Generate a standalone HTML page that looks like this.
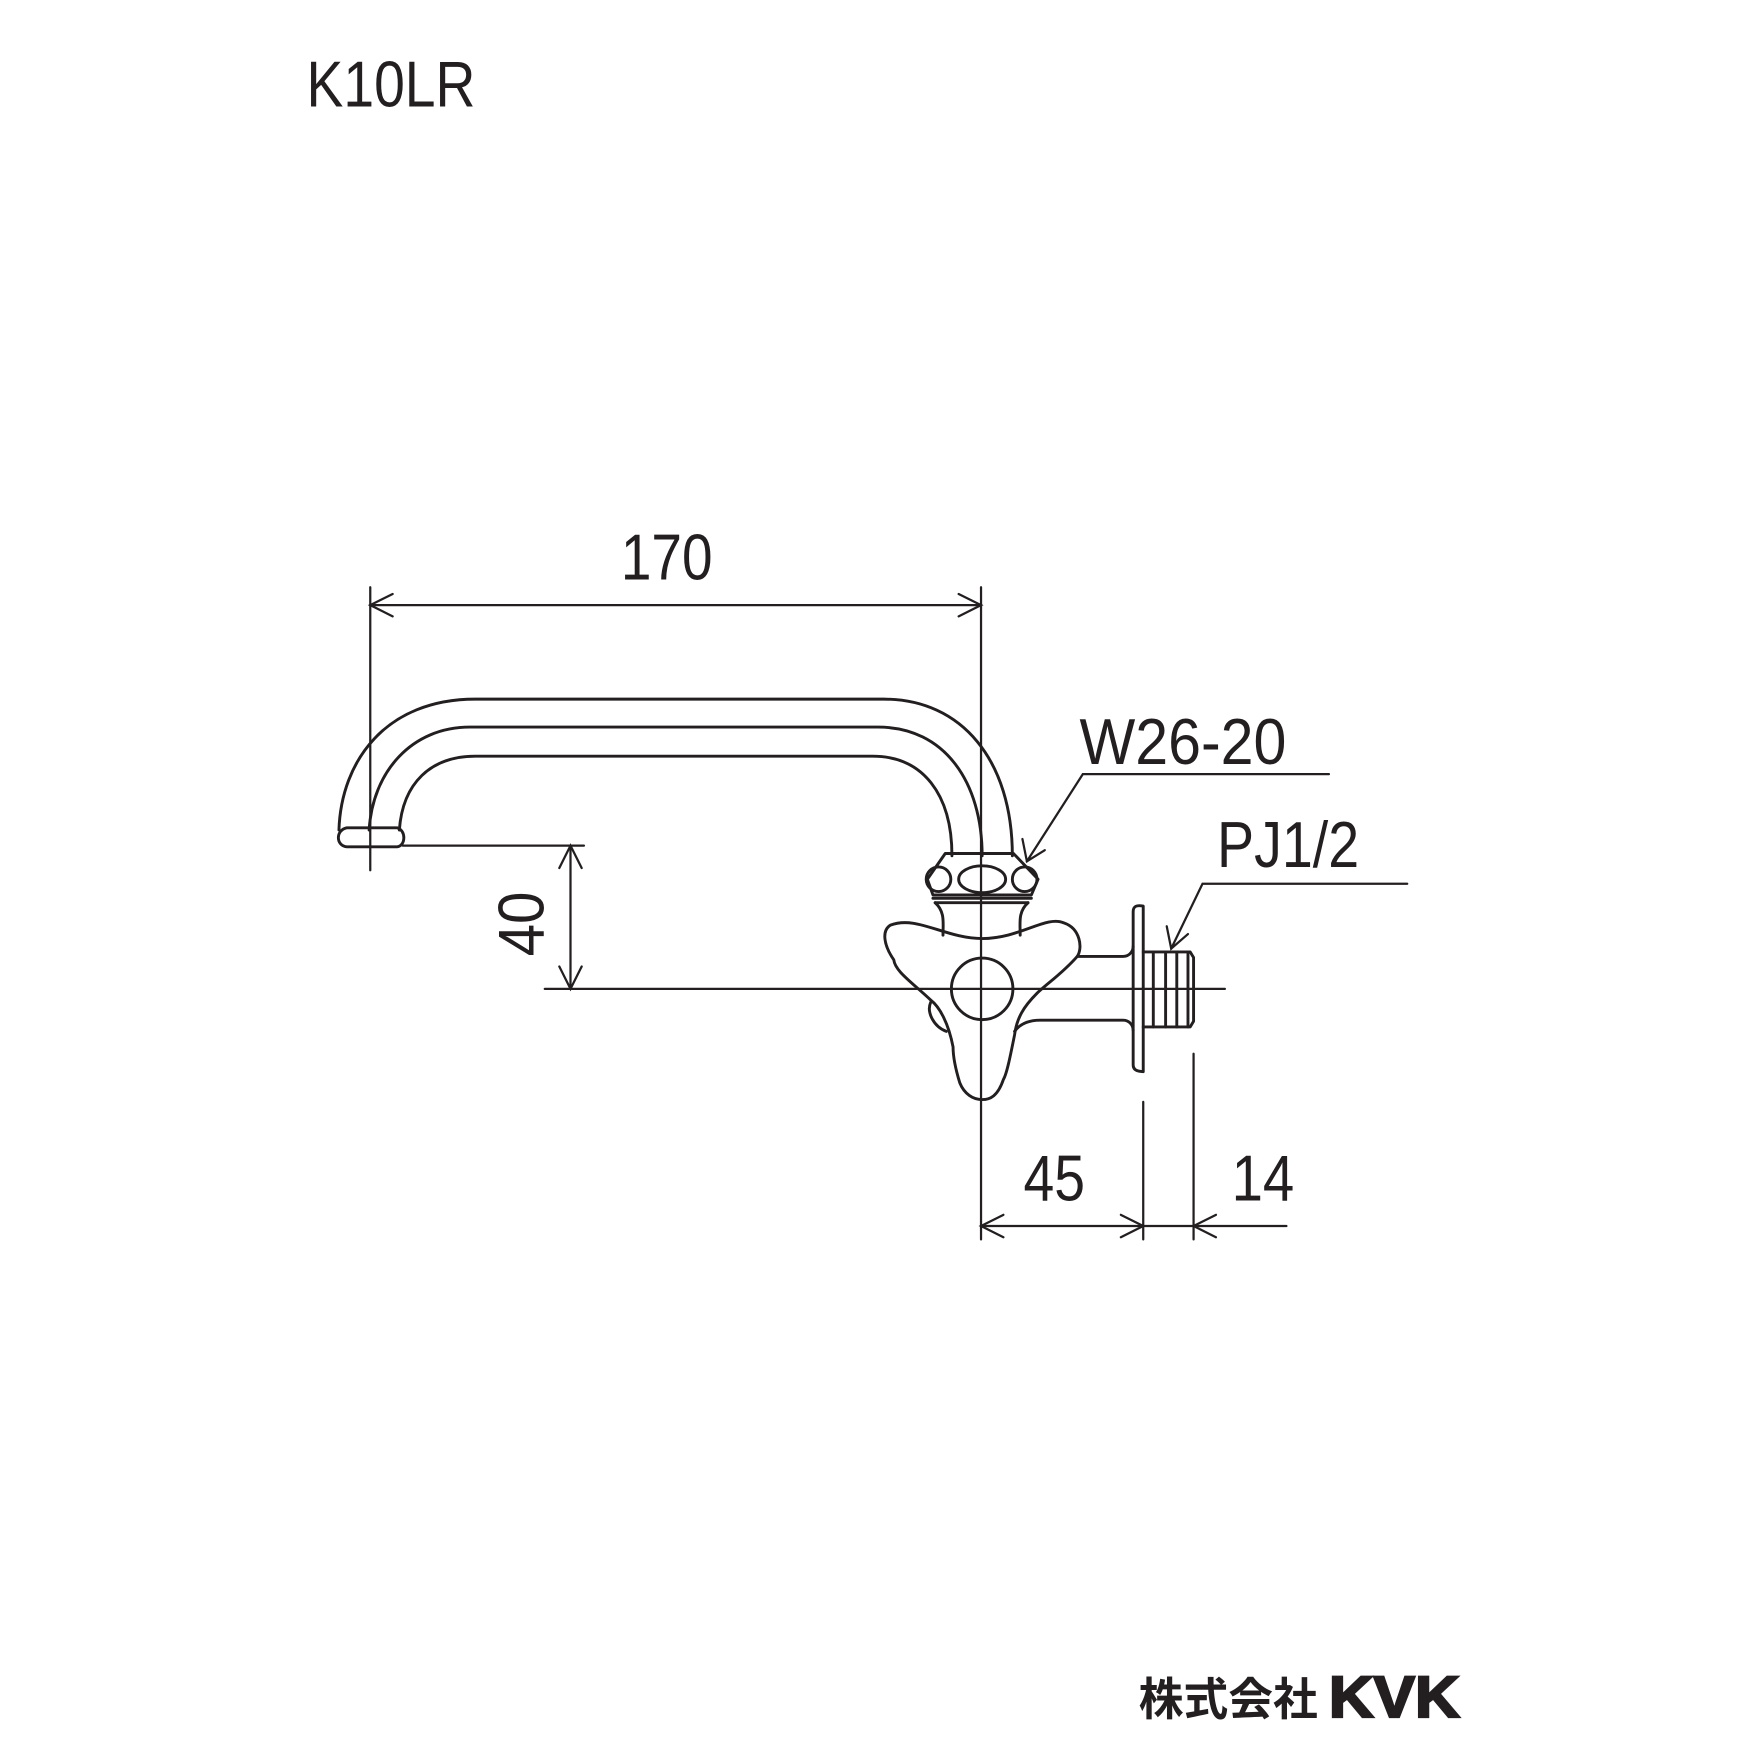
<!DOCTYPE html>
<html><head><meta charset="utf-8"><style>
html,body{margin:0;padding:0;background:#fff}
svg{display:block}
text{font-family:"Liberation Sans Narrow","Liberation Sans",sans-serif;fill:#231f20}
</style></head><body>
<svg width="1754" height="1754" viewBox="0 0 1568 1568" xmlns="http://www.w3.org/2000/svg">
<g fill="none" stroke="#231f20" stroke-width="2.6" stroke-linecap="round" stroke-linejoin="round">
<path d="M303 742 C305 680 345 625 425 625 L790 625 C860 625 905 680 905 765"/>
<path d="M330 742 C333 690 368 650 420 650 L785 650 C845 650 878 700 878 765"/>
<path d="M357 742 C360 700 385 676 425 676 L780 676 C825 676 851 710 851 765"/>
<path d="M310 740 L355 740 C363 742 363 756 355 757 L310 757 C300 756 300 742 310 740 Z"/>
<path d="M845 763 L906 763 L928 786 L922 800 L834 800 L829 786 Z"/>
<circle cx="839" cy="786" r="11"/><circle cx="916" cy="786" r="11"/>
<ellipse cx="878" cy="786" rx="21" ry="12"/>
<line x1="834" y1="803" x2="922" y2="803"/>
<line x1="836" y1="807" x2="919" y2="807"/>
<path d="M836 807 C845 815 843 825 843 836 M919 807 C910 815 912 825 912 836"/>
<path d="M796 827 C820 818 845 839 878 839 C912 839 935 818 951 825 C966 830 968 848 963 855 C950 870 935 880 927 888 C915 900 909 910 907 925 C903 945 900 960 897 965 C892 980 885 983 878 983 C870 983 862 978 858 968 C854 955 852 945 852 936 C848 915 840 900 832 894 C815 878 800 868 799 858 C790 845 788 832 796 827 Z"/>
<path d="M832 896 C828 905 835 918 846 922"/>
<circle cx="878" cy="884" r="27.5"/>
<path d="M963 855 L1004 855 C1010 855 1013 850 1013 846"/>
<path d="M907 922 C912 915 920 912 930 912 L1004 912 C1010 912 1013 917 1013 921"/>
<path d="M1013 815 C1013 810 1016 809 1022 810 L1022 958 C1016 958 1013 956 1013 952 Z"/>
<path d="M1022 851 L1064 851 L1067 856 L1067 913 L1064 918 L1022 918"/>
<line x1="1031" y1="851" x2="1031" y2="918"/><line x1="1042" y1="851" x2="1042" y2="918"/>
<line x1="1052" y1="851" x2="1052" y2="918"/><line x1="1062" y1="851" x2="1062" y2="918"/>
</g>
<g fill="none" stroke="#231f20" stroke-width="2" stroke-linecap="round">
<line x1="331" y1="525" x2="331" y2="778"/>
<line x1="877" y1="525" x2="877" y2="1108"/>
<line x1="331" y1="541" x2="877" y2="541"/>
<path d="M351 531 L331 541 L351 551 M857 531 L877 541 L857 551"/>
<line x1="360" y1="756" x2="522" y2="756"/>
<line x1="487" y1="884" x2="1095" y2="884"/>
<line x1="510" y1="756" x2="510" y2="884"/>
<path d="M500 776 L510 756 L520 776 M500 864 L510 884 L520 864"/>
<line x1="1022" y1="985" x2="1022" y2="1108"/>
<line x1="1067" y1="942" x2="1067" y2="1108"/>
<line x1="877" y1="1096" x2="1150" y2="1096"/>
<path d="M897 1086 L877 1096 L897 1106 M1002 1086 L1022 1096 L1002 1106 M1087 1086 L1067 1096 L1087 1106"/>
<path d="M1188 692 L968 692 L918 770"/>
<path d="M914 750 L918 770 L934 760"/>
<path d="M1258 790 L1075 790 L1047 848"/>
<path d="M1043 828 L1047 848 L1062 835"/>
</g>
<text x="274" y="95" font-size="58" textLength="151" lengthAdjust="spacingAndGlyphs">K10LR</text>
<text x="555" y="518" font-size="58" textLength="82" lengthAdjust="spacingAndGlyphs">170</text>
<text x="965" y="683" font-size="58" textLength="185" lengthAdjust="spacingAndGlyphs">W26-20</text>
<text x="1088" y="775" font-size="58" textLength="127" lengthAdjust="spacingAndGlyphs">PJ1/2</text>
<text x="915" y="1073" font-size="58" textLength="55" lengthAdjust="spacingAndGlyphs">45</text>
<text x="1101" y="1073" font-size="58" textLength="56" lengthAdjust="spacingAndGlyphs">14</text>
<text transform="translate(486 855) rotate(-90)" font-size="58" textLength="58" lengthAdjust="spacingAndGlyphs">40</text>
<text x="1018" y="1533" font-size="40" font-weight="bold" style="font-family:'Noto Sans CJK JP',sans-serif">株式会社</text>
<text x="1188" y="1535" font-size="52" font-weight="900" stroke="#231f20" stroke-width="2" style="font-family:'Liberation Sans',sans-serif" textLength="117" lengthAdjust="spacingAndGlyphs">KVK</text>
</svg>
</body></html>
